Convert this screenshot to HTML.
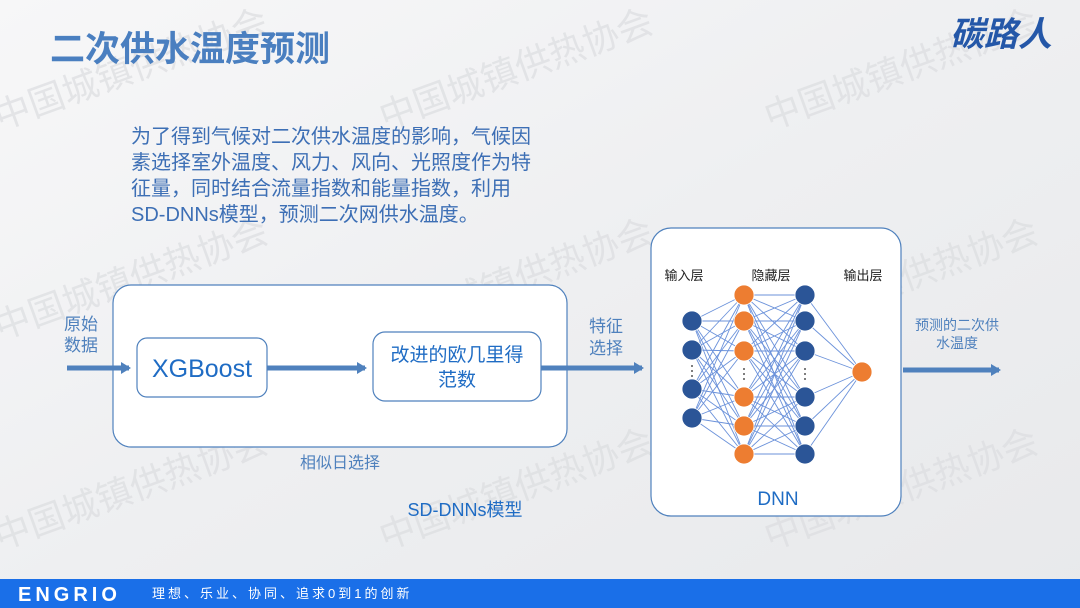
<!DOCTYPE html>
<html><head><meta charset="utf-8"><style>
body{margin:0;width:1080px;height:608px;overflow:hidden;background:#f3f4f6;font-family:"Liberation Sans","Noto Sans CJK SC",sans-serif}
</style></head><body>
<svg width="1080" height="608" xmlns="http://www.w3.org/2000/svg" style="position:absolute;left:0;top:0;font-family:'Liberation Sans','Noto Sans CJK SC',sans-serif">
<defs>
<linearGradient id="bg" x1="0" y1="0" x2="1" y2="1"><stop offset="0" stop-color="#f7f7f8"/><stop offset="0.5" stop-color="#eeeff1"/><stop offset="1" stop-color="#e8e9eb"/></linearGradient>
<marker id="ah" markerWidth="10" markerHeight="12" refX="8" refY="6" orient="auto" markerUnits="userSpaceOnUse"><path d="M0,0 L10,6 L0,12 z" fill="#4f81bd"/></marker>
</defs>
<rect width="1080" height="608" fill="url(#bg)"/>
<g fill="#dcdde0" font-size="36" opacity="0.7">
<text x="0" y="130" transform="rotate(-20 0 130)">中国城镇供热协会</text>
<text x="385" y="130" transform="rotate(-20 385 130)">中国城镇供热协会</text>
<text x="770" y="130" transform="rotate(-20 770 130)">中国城镇供热协会</text>
<text x="0" y="340" transform="rotate(-20 0 340)">中国城镇供热协会</text>
<text x="385" y="340" transform="rotate(-20 385 340)">中国城镇供热协会</text>
<text x="770" y="340" transform="rotate(-20 770 340)">中国城镇供热协会</text>
<text x="0" y="550" transform="rotate(-20 0 550)">中国城镇供热协会</text>
<text x="385" y="550" transform="rotate(-20 385 550)">中国城镇供热协会</text>
<text x="770" y="550" transform="rotate(-20 770 550)">中国城镇供热协会</text>
</g>
<text x="50" y="61" font-size="35" font-weight="bold" fill="#4a7fc0">二次供水温度预测</text>
<text x="950" y="46" font-size="34" font-weight="bold" font-style="italic" fill="#2457a8">碳路人</text>
<g font-size="20" fill="#3d6fb5">
<text x="131" y="143">为了得到气候对二次供水温度的影响，气候因</text>
<text x="131" y="169">素选择室外温度、风力、风向、光照度作为特</text>
<text x="131" y="195">征量，同时结合流量指数和能量指数，利用</text>
<text x="131" y="221">SD-DNNs模型，预测二次网供水温度。</text>
</g>
<rect x="113" y="285" width="454" height="162" rx="18" fill="#fff" stroke="#4f81bd" stroke-width="1.2"/>
<rect x="137" y="338" width="130" height="59" rx="10" fill="#fff" stroke="#4f81bd" stroke-width="1.2"/>
<rect x="373" y="332" width="168" height="69" rx="12" fill="#fff" stroke="#4f81bd" stroke-width="1.2"/>
<text x="202" y="377" font-size="25" fill="#1f6cc4" text-anchor="middle">XGBoost</text>
<text x="457" y="361" font-size="19" fill="#1f6cc4" text-anchor="middle">改进的欧几里得</text>
<text x="457" y="386" font-size="19" fill="#1f6cc4" text-anchor="middle">范数</text>
<text x="64" y="330" font-size="17" fill="#4f81bd">原始</text>
<text x="64" y="351" font-size="17" fill="#4f81bd">数据</text>
<text x="589" y="332" font-size="17" fill="#4f81bd">特征</text>
<text x="589" y="354" font-size="17" fill="#4f81bd">选择</text>
<text x="340" y="468" font-size="16" fill="#4f81bd" text-anchor="middle">相似日选择</text>
<text x="465" y="516" font-size="18" fill="#1f6cc4" text-anchor="middle">SD-DNNs模型</text>
<g stroke="#4f81bd" stroke-width="5" fill="none" marker-end="url(#ah)">
<line x1="67" y1="368" x2="129" y2="368"/>
<line x1="267" y1="368" x2="365" y2="368"/>
<line x1="541" y1="368" x2="642" y2="368"/>
<line x1="903" y1="370" x2="999" y2="370"/>
</g>
<rect x="651" y="228" width="250" height="288" rx="20" fill="#fff" stroke="#4f81bd" stroke-width="1.2"/>
<g font-size="13" fill="#222" text-anchor="middle">
<text x="684" y="280">输入层</text><text x="771" y="280">隐藏层</text><text x="863" y="280">输出层</text>
</g>
<text x="778" y="505" font-size="19" fill="#1f6cc4" text-anchor="middle">DNN</text>
<text x="957" y="330" font-size="14" fill="#4f81bd" text-anchor="middle">预测的二次供</text>
<text x="957" y="348" font-size="14" fill="#4f81bd" text-anchor="middle">水温度</text>
<g id="lines" stroke="#5b86d6" stroke-width="0.9" opacity="0.9"></g>
<g id="nodes"></g>
<rect x="0" y="579" width="1080" height="29" fill="#1a6fe8"/>
<text x="18" y="601" font-size="20" font-weight="bold" fill="#fff" letter-spacing="4">ENGRIO</text>
<text x="152" y="598" font-size="13" fill="#fff" letter-spacing="3">理想、乐业、协同、追求0到1的创新</text>
</svg>
<script>
var ns="http://www.w3.org/2000/svg";
var hy=[295,321,351,397,426,454];
var L=[{x:692,y:[321,350,389,418],c:"#2b5597"},{x:744,y:hy,c:"#ed7d31"},{x:805,y:hy,c:"#2b5597"},{x:862,y:[372],c:"#ed7d31"}];
var lg=document.getElementById("lines"),ng=document.getElementById("nodes");
for(var i=0;i<3;i++){L[i].y.forEach(function(a){L[i+1].y.forEach(function(b){var l=document.createElementNS(ns,"line");l.setAttribute("x1",L[i].x);l.setAttribute("y1",a);l.setAttribute("x2",L[i+1].x);l.setAttribute("y2",b);lg.appendChild(l);});});}
L.forEach(function(ly){ly.y.forEach(function(y){var c=document.createElementNS(ns,"circle");c.setAttribute("cx",ly.x);c.setAttribute("cy",y);c.setAttribute("r",10);c.setAttribute("fill",ly.c);c.setAttribute("stroke","#fff");c.setAttribute("stroke-width","0.8");ng.appendChild(c);});});
[[692,371],[744,374],[805,374]].forEach(function(p){for(var k=-1;k<=1;k++){var c=document.createElementNS(ns,"circle");c.setAttribute("cx",p[0]);c.setAttribute("cy",p[1]+k*5);c.setAttribute("r",1);c.setAttribute("fill","#555");ng.appendChild(c);}});
</script>
</body></html>
